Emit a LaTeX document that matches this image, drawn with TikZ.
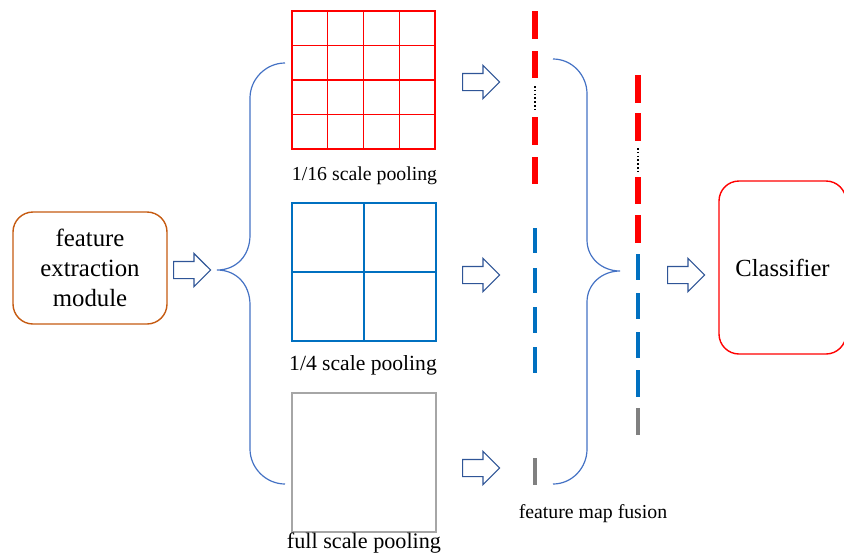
\documentclass[tikz,border=0pt]{standalone}
\usepackage{fontspec}
\setmainfont{Liberation Serif}
\usetikzlibrary{shapes.arrows}

\definecolor{modorange}{HTML}{C55A11}
\definecolor{poolred}{HTML}{FF0000}
\definecolor{poolblue}{HTML}{0070C0}
\definecolor{poolgray}{HTML}{A6A6A6}
\definecolor{featgray}{HTML}{808080}
\definecolor{bracecol}{HTML}{4472C4}
\definecolor{arrowcol}{HTML}{2F5597}

\tikzset{
  hollowarrow/.style={single arrow, draw=arrowcol, fill=white, line width=0.6pt,
    minimum height=18.5pt, inner xsep=0pt, inner ysep=4pt,
    single arrow head extend=4pt, anchor=tail},
  bracepath/.style={draw=bracecol, line width=0.6pt},
  gridred/.style={draw=poolred, line width=0.7pt},
  gridblue/.style={draw=poolblue, line width=0.6pt},
  gridgray/.style={draw=poolgray, line width=1pt},
  featred/.style={draw=poolred, line width=2.6pt},
  featblue/.style={draw=poolblue, line width=2.3pt},
  featgrey/.style={draw=featgray, line width=2.3pt},
  featdots/.style={draw=black, line width=1pt, dash pattern=on 0.8pt off 1.1pt},
  poollabel/.style={anchor=base, inner sep=0pt}
}

\begin{document}
\begin{tikzpicture}[x=0.5pt, y=-0.5pt]
\useasboundingbox (0,0) rectangle (844,557);

% input and output blocks
\node[draw=modorange, line width=0.7pt, rounded corners=10pt, minimum width=77pt,
  minimum height=56pt, align=center, font=\fontsize{12.4}{15}\selectfont]
  (module) at (90,268) {feature\\extraction\\module};
\node[draw=poolred, line width=0.7pt, rounded corners=10pt, minimum width=63.5pt,
  minimum height=86.5pt, font=\fontsize{12.3}{15}\selectfont]
  (classifier) at (782.5,267.5) {Classifier};

% hollow arrows
\node[hollowarrow] (arrmod) at (173,270) {};
\node[hollowarrow] (arr16) at (462, 82) {};
\node[hollowarrow] (arr4)  at (462,275) {};
\node[hollowarrow] (arr1)  at (462,468) {};
\node[hollowarrow] (arrcls) at (667,275) {};

% left brace
\draw[bracepath] (285,63) .. controls (266,63) and (250,79) .. (250,98) -- (250,235)
  .. controls (250,256) and (236,270) .. (217,270)
  .. controls (236,270) and (250,284) .. (250,305) -- (250,449)
  .. controls (250,468) and (266,484) .. (285,484);

% 1/16 pooling grid
\draw[gridred] (292, 11) rectangle (435,149);
\draw[gridred] (327.75, 11) -- (327.75,149);
\draw[gridred] (363.5, 11) -- (363.5,149);
\draw[gridred] (399.25, 11) -- (399.25,149);
\draw[gridred] (292, 45.5) -- (435, 45.5);
\draw[gridred] (292, 80) -- (435, 80);
\draw[gridred] (292,114.5) -- (435,114.5);
\node[poollabel, font=\fontsize{9.9}{12}\selectfont] (lab16) at (364.5,180) {1/16 scale pooling};

% 1/4 pooling grid
\draw[gridblue] (292,203) rectangle (436,341);
\draw[gridblue] (364,203) -- (364,341);
\draw[gridblue] (292,272) -- (436,272);
\node[poollabel, font=\fontsize{10.8}{13}\selectfont] (lab4) at (363,370) {1/4 scale pooling};

% full pooling
\draw[gridgray] (292,393) rectangle (436,532);
\node[poollabel, font=\fontsize{11.1}{13}\selectfont] (lab1) at (364,548) {full scale pooling};

% pooled features
\draw[featred] (535, 11) -- (535, 39);
\draw[featred] (535, 51) -- (535, 78);
\draw[featdots] (535, 86) -- (535,110);
\draw[featred] (535,117) -- (535,145);
\draw[featred] (535,157) -- (535,184);

\draw[featblue] (535,228) -- (535,253);
\draw[featblue] (535,268) -- (535,293);
\draw[featblue] (535,307) -- (535,333);
\draw[featblue] (535,347) -- (535,373);

\draw[featgrey] (535,458) -- (535,485);

% right brace
\draw[bracepath] (553,59) .. controls (572,59) and (587,75) .. (587,94) -- (587,240)
  .. controls (587,258) and (602,271) .. (620,271)
  .. controls (602,271) and (587,284) .. (587,302) -- (587,449)
  .. controls (587,468) and (572,484) .. (553,484);
\node[poollabel, font=\fontsize{9.9}{12}\selectfont] (labfuse) at (593,518) {feature map fusion};

% fused feature
\draw[featred] (638, 75) -- (638,103);
\draw[featred] (638,113) -- (638,141);
\draw[featdots] (638,148) -- (638,173);
\draw[featred] (638,177) -- (638,204);
\draw[featred] (638,215) -- (638,243);

\draw[featblue] (638,254) -- (638,280);
\draw[featblue] (638,293) -- (638,319);
\draw[featblue] (638,332) -- (638,358);
\draw[featblue] (638,370) -- (638,397);

\draw[featgrey] (638,408) -- (638,435);

\end{tikzpicture}
\end{document}
